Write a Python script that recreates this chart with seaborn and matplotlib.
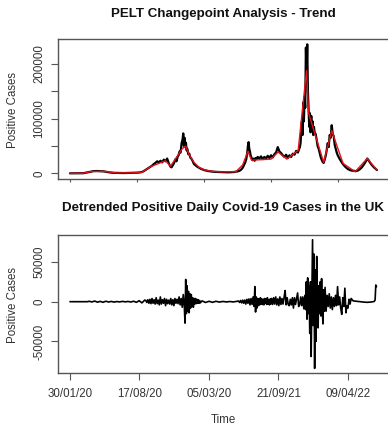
import numpy as np
import matplotlib
matplotlib.use("Agg")
import matplotlib.pyplot as plt
import seaborn as sns

# ---------------- data (cases in thousands, x = days since 30/01/20) ----------------
top_day = [0, 10, 20, 30, 40, 50, 60, 70, 80, 90, 100, 110, 120, 130, 140, 150, 160, 170, 180, 190, 200, 210,
           215, 220, 225, 230, 235, 240, 245, 250, 255, 260, 265, 270, 275, 280, 285, 290, 295, 300,
           303, 306, 309, 312, 315, 318, 321, 324, 327, 330, 333, 336, 338, 340, 342, 344, 346, 348, 350, 353, 356, 359, 362, 365,
           370, 380, 390, 400, 410, 420, 430, 440, 450, 460, 470, 480, 490, 500,
           505, 508, 511, 514, 517, 520, 523, 526, 529, 531, 533, 535, 537, 539, 542, 545, 548, 551, 554, 557, 560,
           565, 570, 575, 580, 585, 590, 595, 600, 605, 610, 615, 620, 625, 630, 635, 640, 645, 650, 655, 660, 665, 670, 675, 680, 684,
           686, 688, 690, 692, 694, 696, 698, 700, 702, 704, 706, 708, 710, 712, 714, 716, 718, 720, 722, 724, 726, 728, 730,
           733, 736, 739, 742, 745, 748, 751, 754, 757, 760, 763, 766, 769, 772, 775, 778, 781, 784, 787, 790, 793, 796, 799,
           805, 811, 817, 823, 829, 835, 841, 847, 853, 859, 865, 871, 877, 883, 887, 890, 895, 901, 907, 913, 916]
top_cases_k = [0, 0, 0, 0, 0.2, 1.5, 3.0, 4.0, 4.2, 3.8, 3.6, 2.5, 1.5, 0.9, 0.7, 0.6, 0.5, 0.6, 0.8, 1.0, 1.2, 1.8,
               2.5, 4, 6, 8, 10, 12, 14, 17, 19, 22, 20, 23, 20, 25, 22, 27, 18, 12,
               11, 14, 17, 21, 26, 22, 30, 33, 40, 38, 55, 62, 73, 50, 65, 48, 56, 42, 45, 35, 36, 29, 27, 24,
               17, 12, 8.5, 6, 4.5, 3.5, 2.8, 2.5, 2.2, 2.0, 1.8, 2.0, 2.5, 3.5,
               4.5, 5.5, 7, 9, 12, 16, 20, 26, 38, 50, 57, 45, 40, 33, 28, 24, 27, 23, 28, 26, 30,
               27, 31, 26, 30, 27, 32, 28, 33, 29, 35, 38, 48, 40, 37, 33, 30, 34, 28, 33, 30, 36, 34, 41, 38, 45,
               48, 55, 75, 95, 70, 130, 95, 140, 120, 230, 180, 236, 150, 115, 85, 110, 75, 105, 80, 95, 70, 85, 75,
               72, 62, 50, 45, 38, 30, 25, 21, 19, 25, 32, 42, 55, 48, 70, 65, 88, 72, 68, 52, 45, 38, 33,
               26, 20, 15, 11, 8, 6, 5, 4.5, 4, 5, 7.5, 11, 16, 22, 27, 25, 20, 15, 11, 7.5, 6]

trend_day = [0, 40, 65, 100, 140, 200, 215, 240, 285, 300, 335, 345, 355, 370, 385, 400, 420, 450, 495,
             515, 531, 542, 600, 621, 647, 681, 706, 712, 757, 781, 815, 851, 887, 916]
trend_k = [0, 0.2, 3.5, 3.6, 0.7, 1.0, 2.0, 12, 23, 13, 45, 50, 35, 20, 11, 6.5, 4, 2.5, 3,
           15, 40, 24, 26, 39, 26, 42, 188, 110, 20, 78, 18, 3, 27, 6]

detr_day = [0, 10, 20, 30, 40, 50,
            55, 63, 71, 79, 87, 95, 103, 111, 119, 127, 135, 143, 151, 159, 167, 175, 183, 191, 199, 207, 215,
            218, 221, 224, 227, 230, 233, 236, 239, 242, 245, 248, 251, 254, 257, 260, 263, 266, 269, 272, 275,
            278, 281, 284, 287, 290, 293, 296, 299, 302, 305, 308, 311, 314, 317, 320, 323, 326, 329,
            331, 333, 335, 337, 339, 341, 343, 345, 347, 349, 351, 353, 355, 357, 359, 361, 363, 365, 367, 369, 371, 373, 375,
            380, 390, 400, 410, 420, 430, 440, 450, 460, 470, 480,
            485, 488, 491, 494, 497, 500, 503, 506, 509, 512, 515, 518, 521, 524, 527, 530,
            532, 534, 536, 538, 540, 542, 544, 546, 548, 550, 552, 554, 556, 558, 560, 562, 564, 566, 568, 570, 572, 574, 576, 578, 580,
            583, 586, 589, 592, 595, 598, 601, 604, 607, 610, 613, 616, 619, 622, 625, 628, 631, 634, 637, 640,
            643, 646, 649, 652, 655, 658, 661, 664, 667, 670, 673, 676,
            678, 680, 682, 684, 686, 688, 690, 692, 694, 696, 698, 700, 702, 704, 706, 708, 710, 712, 714, 716,
            718, 720, 722, 724, 726, 728, 730, 732, 734,
            737, 740, 743, 746, 749, 752, 755, 758, 761, 764, 767, 770, 773, 776, 779, 782, 785, 788, 791, 794,
            797, 800, 803, 806, 809,
            815, 825, 835, 845, 855, 865, 875,
            878, 880, 882]
detr_k = [0, 0, 0, 0, 0, 0,
          0.5, -0.3, 0.8, -0.6, 0.4, -0.8, 0.6, -0.4, 0.3, -0.5, 0.2, -0.3, 0.4, -0.2, 0.3, -0.4, 0.6, -0.8, 1.2, -1.5, 2.0,
          1.5, -1, 2.5, -2, 3, -2.5, 4, -2, 2.5, -3, 5, -2.5, 2, -4, 6, -3, 2.5, -2, 4, -5,
          3, -2.5, 2, -3, 4, -4, 2.5, -5, 4, -2, 3, -2.5, 6, -4, 4, -7, 9, -6,
          -27, 28, -15, 20, -12, 13, -14, 10, -8, 9, -6, 5, -7, 4, -3, 4, -2.5, 3, -2, 2.5, -2, 1.5, -1.5,
          1, -1, 0.5, -0.8, 0.5, -0.5, 0.3, -0.3, 0.2, -0.3, 0.5,
          0.8, -1, 1.5, -1.5, 2, -2, 2, -3, 3, -2, 3.5, -4, 4, -3.5, 6, -6,
          19, -13, 6, -8, 4, -5, 3.5, -4, 5, -3, 3.5, -3.5, 3, -4, 4, -2, 3.5, -3.5, 5, -3, 2, -4, 3.5, -3, 4,
          -3.5, 5, -3, 6, -4, 3.5, -5, 6, -3.5, 4, -3, 5, 14, -4, 5, -3.5, -5, 3, -4, 5,
          -8, 5, -3.5, 4, 11, -6, -4, 6, -5, 6, -9, 8,
          -10, 25, -22, 30, -15, 20, -40, 25, -69, 10, 78, -30, 60, -84, 40, -50, 57, -20, -33, 20,
          -15, 25, -18, 29, -10, -28, 15, -12, 18,
          -12, 8, -6, 10, -8, 6, -10, 5, -6, 8, -5, 19, -4, 6, -8, -16, 5, -6, 17, -14,
          -5, -8, 3, -3, 4,
          1, 0.5, 0, -0.5, -0.8, -0.5, 0.2,
          2, 21, 19]

date_ticks = [0, 200, 400, 600, 800]
date_labels = ["30/01/20", "17/08/20", "05/03/20", "21/09/21", "09/04/22"]
top_yticks = [0, 50000, 100000, 150000, 200000]
top_ylabels = ["0", "", "100000", "", "200000"]
bot_yticks = [-50000, 0, 50000]
bot_ylabels = ["-50000", "0", "50000"]

# ---------------- figure ----------------
sns.set_theme(style="white")
plt.rcParams['font.family'] = ['Liberation Sans', 'DejaVu Sans']

W, H = 388, 426
fig = plt.figure(figsize=(W / 100, H / 100), dpi=100)


def px_axes(left, top, right, bottom):
    return fig.add_axes([left / W, 1 - bottom / H, (right - left) / W, (bottom - top) / H])


ax1 = px_axes(58, 39.5, 389, 179.5)
ax2 = px_axes(58, 235, 389, 373.3)

top_cases = np.array(top_cases_k) * 1000
trend = np.array(trend_k) * 1000
detr = np.array(detr_k) * 1000

sns.lineplot(x=top_day, y=top_cases, ax=ax1, color="black", linewidth=1.6,
             estimator=None, errorbar=None)
sns.lineplot(x=trend_day, y=trend, ax=ax1, color="#e8101a", linewidth=1.0,
             estimator=None, errorbar=None)
sns.lineplot(x=detr_day, y=detr, ax=ax2, color="black", linewidth=1.2,
             estimator=None, errorbar=None)

ax1.set_xlim(-35.8, 952)
ax1.set_ylim(-11300, 244800)
ax2.set_xlim(-34.5, 918)
ax2.set_ylim(-90200, 84000)

edge = "#555555"
txt = "#333333"
for ax in (ax1, ax2):
    for sp in ax.spines.values():
        sp.set_visible(True)
        sp.set_color(edge)
        sp.set_linewidth(1.0)
    ax.set_xlabel("")
    ax.set_ylabel("")
    ax.set_xticks(date_ticks)

ax1.set_xticklabels([""] * len(date_ticks))
ax1.set_yticks(top_yticks)
ax1.set_yticklabels(top_ylabels, rotation=90, va="center")
ax2.set_xticklabels(date_labels)
ax2.set_yticks(bot_yticks)
ax2.set_yticklabels(bot_ylabels, rotation=90, va="center")

ax1.tick_params(axis="x", bottom=True, direction="out", length=2.2, width=0.8, color=edge)
ax2.tick_params(axis="x", bottom=True, direction="out", length=4.8, width=0.8, color=edge,
                labelsize=8.3, labelcolor=txt, pad=6.0)
for ax in (ax1, ax2):
    ax.tick_params(axis="y", left=True, direction="out", length=5.0, width=0.8, color=edge,
                   labelsize=8.3, labelcolor=txt, pad=4.0)


def ftext(x, y, s, **kw):
    fig.text(x / W, 1 - y / H, s, ha="center", va="center", **kw)


ftext(223, 13.5, "PELT Changepoint Analysis - Trend", fontsize=9.6, fontweight="bold", color="#111111")
ftext(223, 208.5, "Detrended Positive Daily Covid-19 Cases in the UK", fontsize=9.6, fontweight="bold",
      color="#111111")
ftext(13.3, 110, "Positive Cases", fontsize=8.3, color=txt, rotation=90)
ftext(13.3, 305, "Positive Cases", fontsize=8.3, color=txt, rotation=90)
ftext(223, 420, "Time", fontsize=8.3, color=txt)

fig.savefig("out.png", dpi=100)
